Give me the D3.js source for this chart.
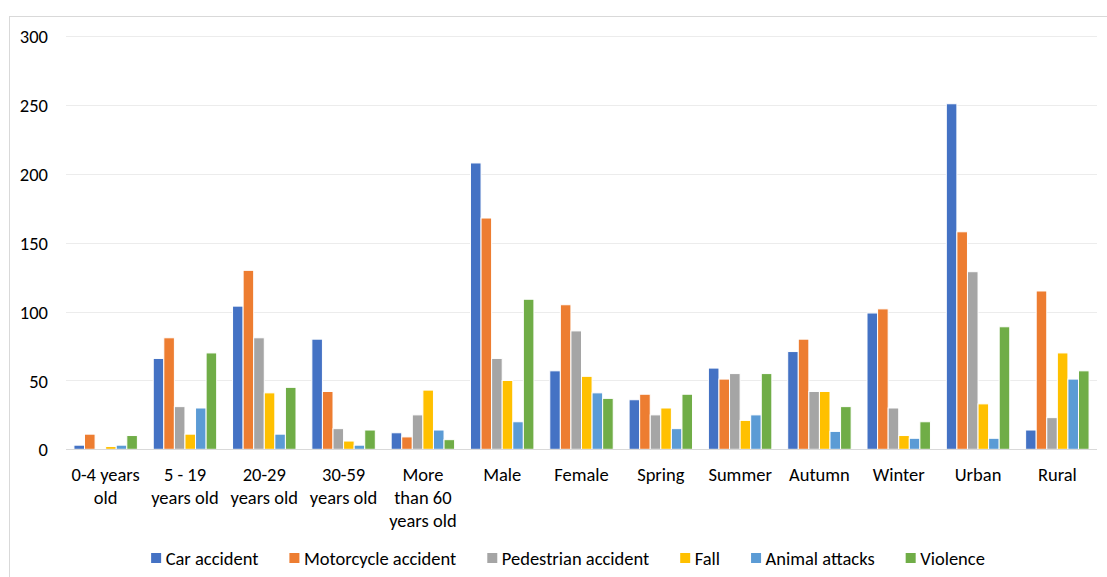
<!DOCTYPE html>
<html>
<head>
<meta charset="utf-8">
<script src="https://cdn.jsdelivr.net/npm/d3@7"></script>
<style>
  html, body { margin: 0; padding: 0; background: #fff; }
  svg { display: block; font-family: "Carlito", "Lato", "Liberation Sans", sans-serif; }
</style>
</head>
<body>
<svg id="chart" width="1107" height="577"></svg>
<script>
// Categories (axis labels split into their display lines)
const categories = ["0-4 years old", "5 - 19 years old", "20-29 years old", "30-59 years old",
  "More than 60 years old", "Male", "Female", "Spring", "Summer", "Autumn", "Winter", "Urban", "Rural"];
const categoryLines = [["0-4 years", "old"], ["5 - 19", "years old"], ["20-29", "years old"],
  ["30-59", "years old"], ["More", "than 60", "years old"], ["Male"], ["Female"], ["Spring"],
  ["Summer"], ["Autumn"], ["Winter"], ["Urban"], ["Rural"]];

const seriesNames = ["Car accident", "Motorcycle accident", "Pedestrian accident", "Fall", "Animal attacks", "Violence"];
const seriesColors = ["#4472C4", "#ED7D31", "#A5A5A5", "#FFC000", "#5B9BD5", "#70AD47"];

const carAccident        = [3, 66, 104, 80, 12, 208, 57, 36, 59, 71, 99, 251, 14];
const motorcycleAccident = [11, 81, 130, 42, 9, 168, 105, 40, 51, 80, 102, 158, 115];
const pedestrianAccident = [0, 31, 81, 15, 25, 66, 86, 25, 55, 42, 30, 129, 23];
const fall               = [2, 11, 41, 6, 43, 50, 53, 30, 21, 42, 10, 33, 70];
const animalAttacks      = [3, 30, 11, 3, 14, 20, 41, 15, 25, 13, 8, 8, 51];
const violence           = [10, 70, 45, 14, 7, 109, 37, 40, 55, 31, 20, 89, 57];

const yTicks = [0, 50, 100, 150, 200, 250, 300];

const seriesValues = [carAccident, motorcycleAccident, pedestrianAccident, fall, animalAttacks, violence];

const FONT_SIZE = 18.5;
const svg = d3.select("#chart");

// outer chart frame
svg.append("rect")
  .attr("x", 9.5).attr("y", 16.5)
  .attr("width", 1140).attr("height", 600)
  .attr("fill", "none").attr("stroke", "#d9d9d9").attr("stroke-width", 1);

const plot = { left: 66, right: 1097, top: 36.3, bottom: 449.3 };

const y = d3.scaleLinear().domain([0, 300]).range([plot.bottom, plot.top]);
const x0 = d3.scaleBand().domain(categories).range([plot.left, plot.right])
  .paddingInner(0.2).paddingOuter(0.1);
const x1 = d3.scaleBand().domain(seriesNames).range([0, x0.bandwidth()]);

// gridlines
svg.append("g")
  .selectAll("line")
  .data(yTicks.filter(t => t > 0))
  .join("line")
  .attr("x1", plot.left).attr("x2", plot.right)
  .attr("y1", d => Math.round(y(d)) + 0.5).attr("y2", d => Math.round(y(d)) + 0.5)
  .attr("stroke", "#ececec").attr("stroke-width", 1);

// y axis labels
const yAxis = d3.axisLeft(y).tickValues(yTicks).tickSize(0).tickPadding(0);
const yg = svg.append("g").attr("transform", `translate(48,0)`).call(yAxis)
  .attr("font-size", FONT_SIZE).attr("font-family", null);
yg.select(".domain").remove();
yg.selectAll("text")
  .attr("fill", "#000")
  .attr("dy", "0.36em");

// bars
const groups = svg.append("g")
  .selectAll("g")
  .data(categories)
  .join("g")
  .attr("transform", d => `translate(${x0(d)},0)`);

groups.selectAll("rect")
  .data((d, i) => seriesNames.map((s, j) => ({ s, v: seriesValues[j][i], c: seriesColors[j] })))
  .join("rect")
  .attr("x", d => x1(d.s))
  .attr("width", x1.bandwidth())
  .attr("y", d => y(d.v))
  .attr("height", d => y(0) - y(d.v))
  .attr("fill", d => d.c)
  .attr("stroke", "#fff").attr("stroke-width", 1);

// x axis line
svg.append("line")
  .attr("x1", plot.left).attr("x2", plot.right)
  .attr("y1", Math.round(y(0)) + 0.5).attr("y2", Math.round(y(0)) + 0.5)
  .attr("stroke", "#d9d9d9").attr("stroke-width", 1);

// x axis labels
const xAxis = d3.axisBottom(x0).tickSize(0).tickFormat("");
const xg = svg.append("g").attr("transform", `translate(0,${y(0)})`).call(xAxis)
  .attr("font-size", FONT_SIZE).attr("font-family", null);
xg.select(".domain").remove();
xg.selectAll(".tick").each(function (d, i) {
  const t = d3.select(this).append("text")
    .attr("fill", "#000")
    .attr("text-anchor", "middle");
  categoryLines[i].forEach((line, k) => {
    t.append("tspan").attr("x", 0).attr("y", 25.5 + k * 23)
      .attr("dominant-baseline", "central").text(line);
  });
});

// legend
const LEGEND_GAP = 31;
const legend = svg.append("g").attr("font-size", FONT_SIZE);
const items = legend.selectAll("g").data(seriesNames).join("g");
items.append("rect")
  .attr("width", 10).attr("height", 10)
  .attr("y", -5)
  .attr("fill", (d, i) => seriesColors[i]);
items.append("text")
  .attr("x", 14.5).attr("dominant-baseline", "central")
  .attr("fill", "#000")
  .text(d => d);
let cursor = 0;
items.each(function () {
  const w = this.getBBox().width;
  d3.select(this).attr("transform", `translate(${cursor},0)`);
  cursor += w + LEGEND_GAP;
});
const totalW = cursor - LEGEND_GAP;
legend.attr("transform", `translate(${568 - totalW / 2},558)`);
</script>
</body>
</html>
